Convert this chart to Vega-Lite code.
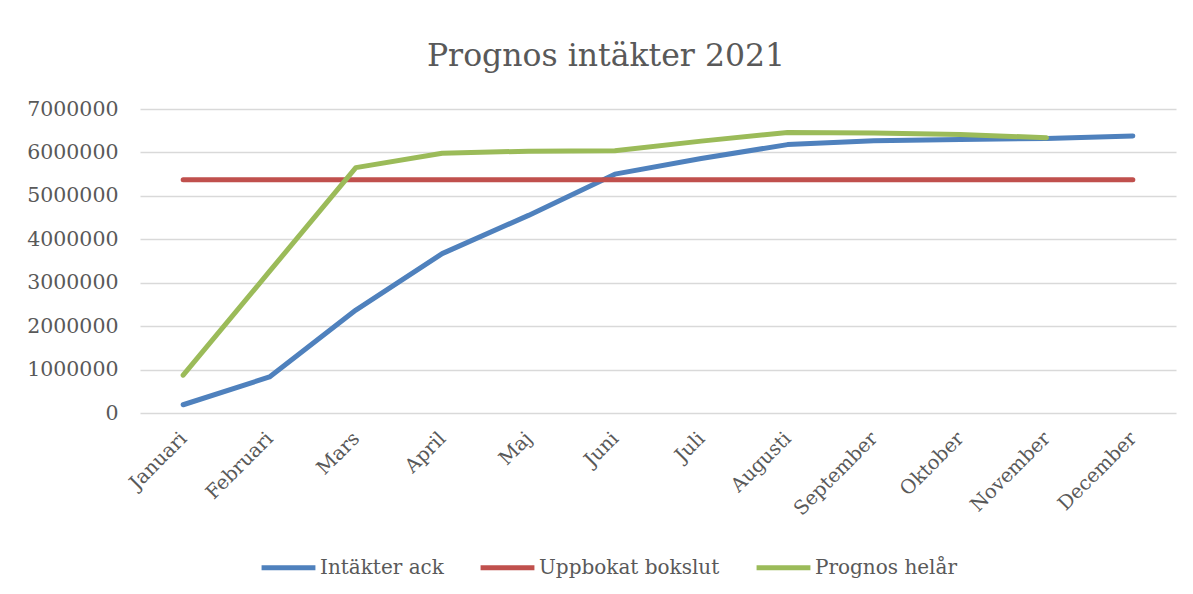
{
  "$schema": "https://vega.github.io/schema/vega-lite/v6.json",
  "width": 1036,
  "height": 304,
  "autosize": {"type": "none"},
  "padding": {"left": 140, "top": 109, "right": 17, "bottom": 181},
  "background": "white",
  "title": {
    "text": "Prognos intäkter 2021",
    "font": "DejaVu Serif",
    "fontSize": 31.5,
    "fontWeight": "normal",
    "color": "#595959",
    "anchor": "middle",
    "dx": -52,
    "offset": 27
  },
  "data": {
    "values": [
      {"month": "Januari", "series": "Intäkter ack", "value": 190000},
      {"month": "Februari", "series": "Intäkter ack", "value": 830000},
      {"month": "Mars", "series": "Intäkter ack", "value": 2370000},
      {"month": "April", "series": "Intäkter ack", "value": 3670000},
      {"month": "Maj", "series": "Intäkter ack", "value": 4550000},
      {"month": "Juni", "series": "Intäkter ack", "value": 5500000},
      {"month": "Juli", "series": "Intäkter ack", "value": 5860000},
      {"month": "Augusti", "series": "Intäkter ack", "value": 6180000},
      {"month": "September", "series": "Intäkter ack", "value": 6270000},
      {"month": "Oktober", "series": "Intäkter ack", "value": 6300000},
      {"month": "November", "series": "Intäkter ack", "value": 6320000},
      {"month": "December", "series": "Intäkter ack", "value": 6380000},
      {"month": "Januari", "series": "Uppbokat bokslut", "value": 5370000},
      {"month": "Februari", "series": "Uppbokat bokslut", "value": 5370000},
      {"month": "Mars", "series": "Uppbokat bokslut", "value": 5370000},
      {"month": "April", "series": "Uppbokat bokslut", "value": 5370000},
      {"month": "Maj", "series": "Uppbokat bokslut", "value": 5370000},
      {"month": "Juni", "series": "Uppbokat bokslut", "value": 5370000},
      {"month": "Juli", "series": "Uppbokat bokslut", "value": 5370000},
      {"month": "Augusti", "series": "Uppbokat bokslut", "value": 5370000},
      {"month": "September", "series": "Uppbokat bokslut", "value": 5370000},
      {"month": "Oktober", "series": "Uppbokat bokslut", "value": 5370000},
      {"month": "November", "series": "Uppbokat bokslut", "value": 5370000},
      {"month": "December", "series": "Uppbokat bokslut", "value": 5370000},
      {"month": "Januari", "series": "Prognos helår", "value": 870000},
      {"month": "Februari", "series": "Prognos helår", "value": 3260000},
      {"month": "Mars", "series": "Prognos helår", "value": 5650000},
      {"month": "April", "series": "Prognos helår", "value": 5980000},
      {"month": "Maj", "series": "Prognos helår", "value": 6030000},
      {"month": "Juni", "series": "Prognos helår", "value": 6040000},
      {"month": "Juli", "series": "Prognos helår", "value": 6260000},
      {"month": "Augusti", "series": "Prognos helår", "value": 6460000},
      {"month": "September", "series": "Prognos helår", "value": 6450000},
      {"month": "Oktober", "series": "Prognos helår", "value": 6410000},
      {"month": "November", "series": "Prognos helår", "value": 6340000}
    ]
  },
  "mark": {"type": "line", "strokeWidth": 5, "strokeCap": "round", "strokeJoin": "round"},
  "encoding": {
    "x": {
      "field": "month",
      "type": "ordinal",
      "sort": ["Januari", "Februari", "Mars", "April", "Maj", "Juni", "Juli", "Augusti", "September", "Oktober", "November", "December"],
      "scale": {"type": "point", "padding": 0.5},
      "axis": {
        "title": null,
        "domain": false,
        "ticks": false,
        "tickSize": 0,
        "grid": false,
        "labelAngle": -45,
        "labelAlign": "right",
        "labelBaseline": "middle",
        "labelPadding": 22,
        "labelFont": "DejaVu Serif",
        "labelFontSize": 19.5,
        "labelColor": "#595959",
        "labelLimit": 0
      }
    },
    "y": {
      "field": "value",
      "type": "quantitative",
      "scale": {"domain": [0, 7000000], "nice": false},
      "axis": {
        "title": null,
        "domain": false,
        "ticks": false,
        "tickSize": 0,
        "values": [0, 1000000, 2000000, 3000000, 4000000, 5000000, 6000000, 7000000],
        "format": "d",
        "grid": true,
        "gridColor": "#d9d9d9",
        "gridWidth": 1.5,
        "labelPadding": 22,
        "labelFont": "DejaVu Serif",
        "labelFontSize": 20.5,
        "labelColor": "#595959"
      }
    },
    "color": {
      "field": "series",
      "type": "nominal",
      "scale": {
        "domain": ["Intäkter ack", "Uppbokat bokslut", "Prognos helår"],
        "range": ["#4f81bd", "#c0504d", "#9bbb59"]
      },
      "legend": {
        "title": null,
        "orient": "none",
        "direction": "horizontal",
        "legendX": 119,
        "legendY": 429,
        "symbolType": "stroke",
        "symbolStrokeWidth": 5,
        "symbolSize": 2900,
        "labelFont": "DejaVu Serif",
        "labelFontSize": 20,
        "labelColor": "#595959",
        "labelOffset": 2,
        "labelLimit": 0,
        "columnPadding": 26
      }
    }
  },
  "config": {"view": {"stroke": null}}
}
